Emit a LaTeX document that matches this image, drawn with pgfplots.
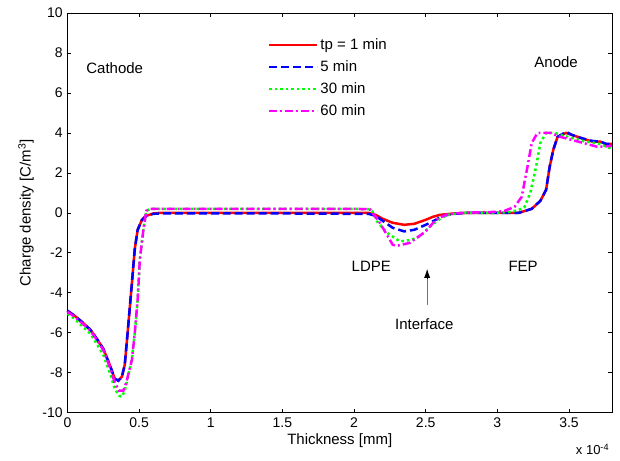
\documentclass[border=0pt]{standalone}
\usepackage{pgfplots}
\pgfplotsset{compat=1.18}
\usetikzlibrary{arrows.meta}
\usepackage{fontspec}
\setmainfont{Liberation Sans}
\definecolor{mred}{RGB}{255,0,0}
\definecolor{mblue}{RGB}{0,0,255}
\definecolor{mgreen}{RGB}{0,255,0}
\definecolor{mmag}{RGB}{255,0,255}
\newcommand\lfont{\fontsize{15bp}{17bp}\selectfont}
\begin{document}
\fontsize{14bp}{16bp}\selectfont
\begin{tikzpicture}
\path[use as bounding box] (-67.5bp,-48bp) rectangle (553bp,413bp);
\begin{axis}[
  scale only axis, width=545bp, height=400bp,
  xmin=0, xmax=3.8, ymin=-10, ymax=10,
  xtick={0,0.5,...,3.5}, ytick={-10,-8,...,10},
  xticklabels={0,0.5,1,1.5,2,2.5,3,3.5},
  tick align=inside, major tick length=4bp,
  axis line style={line width=0.9bp},
  every tick/.style={black, line width=0.6bp},
  tick label style={font=\fontsize{14bp}{16bp}\selectfont},
  label style={font=\lfont},
  /pgf/number format/assume math mode=true,
  xlabel={Thickness [mm]},
  ylabel={Charge density [C/m\textsuperscript{3}]},
  xlabel style={yshift=3bp},
  ylabel style={yshift=-1bp},
  clip=false,
  legend style={draw=none, fill=none, at={(rel axis cs:0.368,0.9425)}, anchor=north west,
    font=\lfont, row sep=4bp, inner sep=0pt, nodes={inner sep=2bp, text height=11bp, text depth=3bp}},
  legend cell align=left,
  legend image code/.code={\draw[#1] (0bp,0bp) -- (48bp,0bp);},
]
\addplot[mred, line width=2.5bp] coordinates {
(0,-4.9) (0.05,-5.15) (0.1,-5.45) (0.16,-5.85) (0.2,-6.25) (0.25,-6.8) (0.3,-7.7) (0.33,-8.3) (0.355,-8.4) (0.38,-8.2) (0.40,-7.6) (0.42,-6.0) (0.45,-3.5) (0.47,-1.8) (0.49,-0.85) (0.52,-0.35) (0.55,-0.15) (0.6,-0.03) (0.65,0) (1.0,0) (1.5,0) (2.0,0) (2.1,0) (2.15,-0.1) (2.2,-0.3) (2.27,-0.5) (2.35,-0.6) (2.42,-0.55) (2.5,-0.35) (2.55,-0.2) (2.6,-0.1) (2.7,-0.03) (2.8,0) (3.0,0) (3.15,0) (3.24,0.2) (3.3,0.6) (3.34,1.15) (3.365,2.3) (3.39,3.15) (3.42,3.8) (3.48,4.0) (3.52,3.9) (3.59,3.73) (3.66,3.57) (3.72,3.56) (3.76,3.43) (3.8,3.45)
};
\addlegendentry{tp = 1 min}
\addplot[mblue, line width=2.5bp, dash pattern=on 8bp off 4bp] coordinates {
(0,-4.9) (0.05,-5.15) (0.1,-5.45) (0.16,-5.85) (0.2,-6.25) (0.25,-6.8) (0.3,-7.7) (0.33,-8.3) (0.355,-8.4) (0.38,-8.2) (0.40,-7.6) (0.42,-6.0) (0.45,-3.5) (0.47,-1.8) (0.49,-0.85) (0.52,-0.35) (0.55,-0.15) (0.6,-0.05) (0.65,-0.03) (1.0,-0.03) (1.5,-0.03) (2.0,-0.05) (2.1,-0.05) (2.15,-0.15) (2.2,-0.4) (2.27,-0.75) (2.35,-0.93) (2.42,-0.85) (2.5,-0.6) (2.57,-0.35) (2.62,-0.15) (2.7,-0.05) (2.8,0) (3.0,0) (3.15,0) (3.24,0.2) (3.3,0.6) (3.34,1.15) (3.365,2.3) (3.39,3.15) (3.42,3.8) (3.48,4.05) (3.52,3.9) (3.59,3.73) (3.66,3.6) (3.72,3.56) (3.76,3.45) (3.8,3.45)
};
\addlegendentry{5 min}
\addplot[mgreen, line width=2.5bp, dash pattern=on 2.5bp off 3bp] coordinates {
(0,-5.05) (0.05,-5.3) (0.1,-5.65) (0.16,-6.05) (0.2,-6.5) (0.25,-7.1) (0.3,-8.1) (0.33,-8.8) (0.36,-9.15) (0.38,-9.2) (0.40,-8.9) (0.42,-8.3) (0.45,-7.3) (0.47,-6.0) (0.49,-4.35) (0.505,-2.35) (0.53,-0.85) (0.55,0.1) (0.58,0.2) (1.0,0.2) (1.5,0.2) (2.0,0.2) (2.1,0.18) (2.13,0.05) (2.16,-0.43) (2.23,-1.0) (2.32,-1.43) (2.40,-1.35) (2.46,-1.18) (2.53,-0.68) (2.60,-0.3) (2.65,-0.1) (2.75,0) (3.0,0) (3.10,0.05) (3.15,0.15) (3.19,0.3) (3.23,1.0) (3.27,2.3) (3.30,3.5) (3.34,4.0) (3.40,4.0) (3.49,3.8) (3.61,3.57) (3.70,3.48) (3.8,3.2)
};
\addlegendentry{30 min}
\addplot[mmag, line width=2.5bp, dash pattern=on 8bp off 3bp on 2bp off 3bp] coordinates {
(0,-4.95) (0.05,-5.2) (0.1,-5.5) (0.16,-5.9) (0.2,-6.3) (0.25,-6.85) (0.3,-7.8) (0.33,-8.5) (0.36,-8.9) (0.39,-8.9) (0.41,-8.5) (0.45,-7.35) (0.47,-6.0) (0.49,-4.35) (0.505,-2.35) (0.53,-0.85) (0.55,0.1) (0.58,0.2) (1.0,0.2) (1.5,0.2) (2.0,0.2) (2.11,0.18) (2.18,-0.5) (2.27,-1.6) (2.30,-1.65) (2.39,-1.5) (2.50,-0.93) (2.57,-0.35) (2.64,-0.1) (2.75,0) (3.0,0.05) (3.05,0.1) (3.12,0.3) (3.17,0.8) (3.21,2.3) (3.24,3.5) (3.28,4.0) (3.37,4.0) (3.44,3.8) (3.56,3.57) (3.70,3.3) (3.8,3.35)
};
\addlegendentry{60 min}
\node[font=\lfont] at (axis cs:0.33,7.25) {Cathode};
\node[font=\lfont] at (axis cs:3.41,7.55) {Anode};
\node[font=\lfont] at (axis cs:2.12,-2.7) {LDPE};
\node[font=\lfont] at (axis cs:3.18,-2.7) {FEP};
\node[font=\lfont] at (axis cs:2.49,-5.55) {Interface};
\draw[black!55, line width=0.8bp] (axis cs:2.51,-4.6) -- (axis cs:2.51,-3.2);
\draw[-{Latex[length=9bp,width=6bp]}, black, line width=0.8bp] (axis cs:2.51,-3.3) -- (axis cs:2.51,-2.8);
\node[anchor=north east, font=\fontsize{13bp}{15bp}\selectfont, inner sep=0pt] at ([yshift=-31bp]rel axis cs:0.995,0) {x 10\textsuperscript{-4}};
\end{axis}
\end{tikzpicture}
\end{document}
